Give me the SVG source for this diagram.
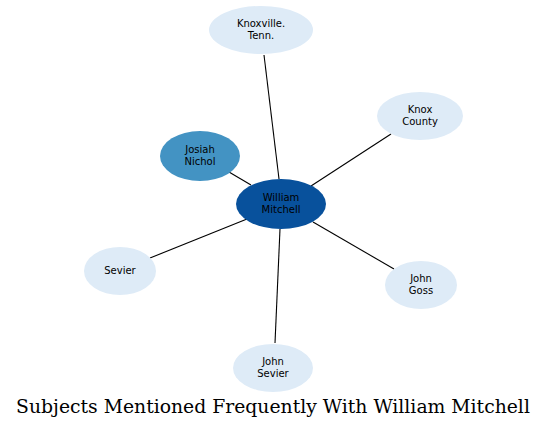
<svg xmlns="http://www.w3.org/2000/svg" width="547" height="429" viewBox="0 0 547 429">
<style>
.n text{font-family:"DejaVu Sans",sans-serif;font-size:10px;text-anchor:middle;fill:#000}
.light ellipse{fill:#deebf7}
.e line{stroke:#000;stroke-width:1.1}
.title{font-family:"DejaVu Serif",serif;font-size:18.8px;text-anchor:middle;fill:#000}
</style>
<rect width="547" height="429" fill="#fff"/>
<g id="edges" class="e">
<line x1="264" y1="55" x2="279" y2="179"/>
<line x1="391" y1="134" x2="311" y2="186"/>
<line x1="229" y1="172" x2="251" y2="185"/>
<line x1="150" y1="258" x2="247" y2="219"/>
<line x1="394" y1="269" x2="313" y2="222"/>
<line x1="275" y1="343" x2="280" y2="229"/>
</g>
<g id="knoxville" class="n light"><ellipse cx="261" cy="30" rx="52" ry="24"/><text x="261" y="27">Knoxville.</text><text x="261" y="39">Tenn.</text></g>
<g id="knoxcounty" class="n light"><ellipse cx="420" cy="116" rx="43" ry="24"/><text x="420" y="113">Knox</text><text x="420" y="125">County</text></g>
<g id="josiah" class="n"><ellipse cx="200" cy="156" rx="40" ry="25" fill="#4393c3"/><text x="200" y="153">Josiah</text><text x="200" y="165">Nichol</text></g>
<g id="william" class="n"><ellipse cx="281" cy="204" rx="45" ry="25" fill="#08519c"/><text x="281" y="201">William</text><text x="281" y="213">Mitchell</text></g>
<g id="sevier" class="n light"><ellipse cx="120" cy="271" rx="36" ry="24"/><text x="120" y="274">Sevier</text></g>
<g id="johngoss" class="n light"><ellipse cx="421" cy="285" rx="36" ry="24"/><text x="421" y="282">John</text><text x="421" y="294">Goss</text></g>
<g id="johnsevier" class="n light"><ellipse cx="273" cy="368" rx="40" ry="24"/><text x="273" y="365">John</text><text x="273" y="377">Sevier</text></g>
<text class="title" x="273" y="413">Subjects Mentioned Frequently With William Mitchell</text>
</svg>
